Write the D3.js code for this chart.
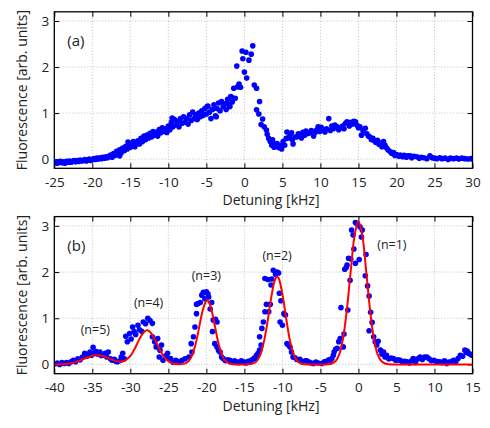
<!DOCTYPE html>
<html>
<head>
<meta charset="utf-8">
<script src="https://cdn.jsdelivr.net/npm/d3@7"></script>
<style>
  body { margin: 0; background: #fff; }
  svg { display: block; font-family: "Open Sans", sans-serif; }
</style>
</head>
<body>
<script>
// panel (a): broad scan, [detuning kHz, fluorescence]
const scanA = [
  [-25.0,-0.08],[-24.8,-0.06],[-24.6,-0.09],[-24.4,-0.07],[-24.2,-0.05],[-24.0,-0.08],[-23.8,-0.06],[-23.6,-0.09],
  [-23.4,-0.05],[-23.2,-0.07],[-23.0,-0.04],[-22.8,-0.07],[-22.6,-0.05],[-22.4,-0.03],[-22.2,-0.06],[-22.0,-0.03],
  [-21.8,-0.05],[-21.6,-0.02],[-21.4,-0.04],[-21.2,-0.03],[-21.0,-0.01],[-20.8,-0.04],[-20.6,-0.02],[-20.4,0.0],
  [-20.2,-0.03],[-20.0,-0.01],[-19.8,0.01],[-19.6,-0.01],[-19.4,0.02],[-19.2,0.0],[-19.0,0.03],[-18.8,0.01],
  [-18.6,0.04],[-18.4,0.02],[-18.2,0.05],[-18.0,0.03],[-17.8,0.06],[-17.6,0.09],[-17.4,0.04],[-17.2,0.12],
  [-17.0,0.08],[-16.8,0.17],[-16.6,0.12],[-16.4,0.07],[-16.4,0.20],[-16.2,0.14],[-16.0,0.24],[-15.8,0.18],
  [-15.6,0.28],[-15.4,0.22],[-15.3,0.37],[-15.1,0.32],[-15.0,0.26],[-14.8,0.30],[-14.6,0.38],[-14.4,0.27],
  [-14.2,0.35],[-14.0,0.40],[-13.8,0.33],[-13.6,0.45],[-13.4,0.38],[-13.2,0.50],[-13.0,0.42],[-12.8,0.52],
  [-12.6,0.46],[-12.4,0.56],[-12.2,0.48],[-12.0,0.60],[-11.8,0.52],[-11.6,0.58],[-11.4,0.50],[-11.2,0.64],
  [-11.0,0.57],[-10.8,0.68],[-10.6,0.60],[-10.4,0.66],[-10.2,0.58],[-10.0,0.72],[-9.8,0.64],[-9.6,0.80],
  [-9.5,0.89],[-9.4,0.70],[-9.2,0.86],[-9.0,0.74],[-8.8,0.82],[-8.6,0.70],[-8.4,0.88],[-8.2,0.78],
  [-8.0,0.92],[-7.8,0.80],[-7.6,0.88],[-7.4,0.76],[-7.2,0.96],[-7.0,0.84],[-6.8,1.02],[-6.6,0.88],
  [-6.4,0.96],[-6.2,0.86],[-6.0,1.00],[-5.8,0.92],[-5.6,1.05],[-5.4,0.95],[-5.2,1.10],[-5.0,0.98],
  [-4.9,1.14],[-4.8,1.15],[-4.6,1.02],[-4.4,0.88],[-4.2,1.08],[-4.0,1.18],[-3.8,0.94],[-3.7,0.92],
  [-3.6,1.10],[-3.4,1.22],[-3.2,1.05],[-3.0,1.25],[-2.8,1.14],[-2.6,1.20],[-2.4,1.08],[-2.3,1.21],
  [-2.2,1.30],[-2.0,1.18],[-1.9,1.14],[-1.8,1.36],[-1.7,1.35],[-1.6,1.24],[-1.4,1.54],[-1.2,1.32],
  [-1.0,2.02],[-0.9,1.57],[-0.7,1.63],[-0.5,1.56],[-0.3,2.35],[-0.2,2.18],[0.0,1.89],[0.2,2.32],
  [0.3,1.76],[0.6,2.15],[0.9,2.28],[1.1,2.46],[1.3,1.61],[1.6,1.54],[1.6,1.07],[1.9,0.98],
  [2.0,1.25],[2.2,0.75],[2.4,0.87],[2.6,0.70],[2.9,0.63],[3.0,0.54],[3.2,0.45],[3.4,0.38],
  [3.6,0.30],[3.7,0.42],[3.9,0.26],[4.1,0.33],[4.3,0.34],[4.5,0.25],[4.7,0.30],[4.8,0.27],
  [4.9,0.22],[5.1,0.38],[5.3,0.30],[5.5,0.45],[5.6,0.59],[5.8,0.46],[6.0,0.50],[6.2,0.57],
  [6.3,0.42],[6.4,0.33],[6.7,0.48],[6.9,0.48],[7.1,0.55],[7.3,0.54],[7.5,0.46],[7.7,0.58],
  [7.9,0.52],[8.1,0.61],[8.3,0.55],[8.6,0.57],[8.8,0.62],[9.1,0.50],[9.3,0.58],[9.5,0.63],
  [9.7,0.70],[9.9,0.60],[10.1,0.69],[10.3,0.64],[10.6,0.59],[10.8,0.66],[11.1,0.88],[11.3,0.62],
  [11.5,0.72],[11.7,0.66],[11.9,0.74],[12.2,0.70],[12.4,0.64],[12.6,0.68],[12.9,0.72],[13.1,0.66],
  [13.3,0.78],[13.5,0.81],[13.8,0.72],[14.0,0.80],[14.2,0.76],[14.4,0.82],[14.6,0.81],[14.8,0.74],
  [15.0,0.68],[15.2,0.70],[15.4,0.52],[15.6,0.62],[15.9,0.67],[16.1,0.55],[16.3,0.50],[16.5,0.48],
  [16.7,0.42],[16.9,0.45],[17.1,0.40],[17.3,0.36],[17.5,0.41],[17.7,0.32],[17.9,0.35],[18.1,0.27],
  [18.3,0.38],[18.5,0.30],[18.7,0.24],[18.9,0.20],[19.2,0.16],[19.4,0.12],[19.6,0.14],[19.8,0.08],
  [20.0,0.10],[20.3,0.06],[20.5,0.09],[20.8,0.05],[21.0,0.08],[21.3,0.04],[21.5,0.07],[21.8,0.07],
  [22.0,0.03],[22.3,0.06],[22.7,0.05],[23.0,0.02],[23.3,0.04],[23.6,0.03],[24.0,0.01],[24.4,0.07],
  [24.7,0.03],[25.0,0.02],[25.3,0.01],[25.7,0.03],[26.0,0.01],[26.4,0.02],[26.8,-0.01],[27.1,0.02],
  [27.5,0.01],[27.9,0.02],[28.2,0.0],[28.6,0.02],[29.0,0.01],[29.4,0.0],[29.8,0.01],[30.0,0.0]
];

// panel (b): sideband scan
const scanB = [
  [-39.9,0.01],[-39.6,0.03],[-39.3,0.0],[-39.0,0.04],[-38.7,0.02],[-38.4,0.04],[-38.1,0.02],[-37.8,0.06],
  [-37.5,0.09],[-37.2,0.06],[-36.9,0.12],[-36.6,0.10],[-36.3,0.16],[-36.0,0.24],[-35.7,0.18],[-35.5,0.22],
  [-35.3,0.27],[-35.1,0.20],[-34.9,0.37],[-34.7,0.25],[-34.5,0.28],[-34.3,0.22],[-34.0,0.27],[-33.8,0.19],
  [-33.5,0.20],[-33.3,0.24],[-33.1,0.16],[-32.9,0.27],[-32.6,0.12],[-32.4,0.09],[-32.1,0.11],[-31.9,0.07],
  [-31.7,0.06],[-31.4,0.08],[-31.2,0.16],[-31.0,0.24],[-30.8,0.12],[-30.6,0.61],[-30.4,0.49],[-30.1,0.67],
  [-29.9,0.55],[-29.7,0.81],[-29.5,0.71],[-29.3,0.65],[-29.0,0.85],[-28.8,0.75],[-28.5,0.72],[-28.3,0.92],
  [-28.0,0.88],[-27.7,1.00],[-27.4,0.95],[-27.1,0.89],[-27.1,0.60],[-26.8,0.49],[-26.6,0.38],[-26.4,0.56],
  [-26.2,0.16],[-26.1,0.31],[-25.9,0.42],[-25.7,0.09],[-25.4,0.18],[-25.1,0.24],[-24.9,0.13],[-24.7,0.13],
  [-24.4,0.05],[-24.0,0.09],[-23.6,0.06],[-23.2,0.09],[-22.8,0.12],[-22.3,0.16],[-22.0,0.45],[-21.9,0.27],
  [-21.7,0.60],[-21.5,0.81],[-21.3,1.10],[-21.3,1.30],[-21.1,1.32],[-20.8,1.34],[-20.6,1.50],[-20.4,1.56],
  [-20.2,1.42],[-20.0,1.57],[-19.8,1.53],[-19.7,1.46],[-19.5,1.20],[-19.3,1.34],[-19.2,0.71],[-19.1,0.96],
  [-18.9,0.45],[-18.8,0.98],[-18.6,0.92],[-18.6,0.38],[-18.4,0.30],[-18.2,0.27],[-18.0,0.16],[-17.8,0.13],
  [-17.5,0.08],[-17.2,0.10],[-16.9,0.09],[-16.6,0.05],[-16.3,0.08],[-16.0,0.06],[-15.7,0.04],[-15.4,0.08],
  [-15.1,0.06],[-14.8,0.03],[-14.5,0.07],[-14.3,0.07],[-14.0,0.10],[-13.7,0.14],[-13.6,0.13],[-13.4,0.20],
  [-13.2,0.24],[-13.0,0.31],[-13.0,0.60],[-12.8,0.42],[-12.7,0.78],[-12.5,0.92],[-12.3,1.14],[-12.1,1.30],
  [-11.8,1.14],[-11.6,1.30],[-11.5,1.72],[-12.3,1.86],[-11.9,1.84],[-11.4,1.85],[-11.2,2.04],[-10.9,1.95],
  [-10.7,2.00],[-10.5,1.98],[-10.4,1.54],[-10.2,1.38],[-10.0,0.85],[-10.3,0.92],[-9.8,1.10],[-9.6,1.07],
  [-9.4,0.45],[-9.2,0.42],[-9.0,0.38],[-8.8,0.27],[-8.6,0.16],[-8.4,0.15],[-8.1,0.11],[-7.7,0.11],
  [-7.4,0.06],[-7.0,0.08],[-6.8,0.08],[-6.5,0.05],[-6.2,0.03],[-5.9,0.02],[-5.6,0.05],[-5.3,0.03],
  [-4.8,0.02],[-4.5,0.06],[-4.2,0.07],[-3.9,0.10],[-3.7,0.09],[-3.5,0.13],[-3.3,0.20],[-3.2,0.27],
  [-3.0,0.33],[-2.8,0.35],[-2.6,0.49],[-2.4,0.56],[-2.3,1.23],[-2.0,0.38],[-1.9,0.66],[-1.8,2.06],
  [-1.6,2.10],[-1.5,2.15],[-1.4,1.18],[-1.3,2.30],[-1.1,1.82],[-1.0,2.28],[-0.9,2.91],[-0.7,2.80],
  [-0.6,2.50],[-0.4,3.07],[-0.4,2.19],[-0.2,3.05],[0.1,2.27],[0.2,2.98],[0.4,2.76],[0.5,2.91],
  [0.9,1.92],[1.0,2.38],[1.2,1.70],[1.4,1.48],[1.4,0.73],[1.6,1.13],[1.8,0.91],[2.0,0.60],
  [2.2,0.49],[2.4,0.42],[2.6,0.50],[2.9,0.31],[3.1,0.22],[3.3,0.27],[3.5,0.16],[3.7,0.20],
  [4.0,0.12],[4.3,0.14],[4.6,0.13],[4.9,0.09],[5.2,0.10],[5.5,0.09],[5.8,0.05],[6.1,0.07],
  [6.4,0.06],[6.7,0.03],[7.0,0.08],[7.2,0.13],[7.5,0.04],[7.8,0.12],[8.1,0.16],[8.4,0.11],
  [8.7,0.16],[9.0,0.16],[9.3,0.12],[9.6,0.08],[9.9,0.09],[10.2,0.07],[10.5,0.05],[10.7,0.06],
  [11.0,0.04],[11.3,0.08],[11.6,0.02],[11.9,0.05],[12.2,0.06],[12.5,0.09],[12.8,0.06],[13.1,0.13],
  [13.4,0.20],[13.7,0.18],[14.0,0.31],[14.2,0.26],[14.3,0.29],[14.5,0.24],[14.7,0.22],[14.9,0.20]
];

// panel (b): fitted curve
const fitB = [
  [-40,0.0],[-39,0.005],[-38,0.021],[-37,0.062],[-36,0.128],[-35,0.188],[-34.4,0.200],[-34,0.197],
  [-33,0.142],[-32,0.078],[-31.4,0.060],[-31,0.063],[-30,0.184],[-29.5,0.318],[-29,0.483],[-28.5,0.64],
  [-28,0.73],[-27.8,0.74],[-27.5,0.72],[-27,0.61],[-26.5,0.45],[-26,0.28],[-25.5,0.155],[-25,0.073],
  [-24.5,0.03],[-24,0.011],[-23.5,0.005],[-23,0.012],[-22.5,0.047],[-22,0.153],[-21.5,0.386],[-21,0.76],
  [-20.5,1.16],[-20,1.38],[-19.9,1.39],[-19.5,1.28],[-19,0.93],[-18.5,0.52],[-18,0.23],[-17.5,0.078],
  [-17,0.021],[-16.5,0.004],[-16,0.001],[-15,0.0],[-14.5,0.003],[-14,0.014],[-13.5,0.054],[-13,0.17],
  [-12.5,0.44],[-12,0.88],[-11.5,1.42],[-11,1.82],[-10.7,1.90],[-10.5,1.87],[-10,1.52],[-9.5,0.99],
  [-9,0.51],[-8.5,0.21],[-8,0.07],[-7.5,0.018],[-7,0.004],[-6,0.0],[-5,0.0],[-4,0.004],
  [-3.5,0.02],[-3,0.075],[-2.5,0.23],[-2,0.59],[-1.5,1.22],[-1,2.05],[-0.5,2.80],[0,3.10],
  [0.5,2.80],[1,2.05],[1.5,1.22],[2,0.59],[2.5,0.23],[3,0.075],[3.5,0.02],[4,0.004],
  [5,0.0],[10,0.0],[15,0.0]
];

const sidebandLabels = ["(n=1)", "(n=2)", "(n=3)", "(n=4)", "(n=5)"];
const sidebandLabelAt = [[4.4, 2.6], [-10.7, 2.35], [-20.0, 1.93], [-27.6, 1.34], [-34.6, 0.75]];

const xTicksA = [-25, -20, -15, -10, -5, 0, 5, 10, 15, 20, 25, 30];
const xTicksB = [-40, -35, -30, -25, -20, -15, -10, -5, 0, 5, 10, 15];
const yTicks = [0, 1, 2, 3];

const W = 490, H = 428;
const left = 54.3, right = 472.5;
const ink = "#222";

const svg = d3.select("body").append("svg")
    .attr("width", W)
    .attr("height", H);

function drawPanel(opts){
    const x = d3.scaleLinear().domain(opts.xDomain).range([left, right]);
    const y = d3.scaleLinear().domain([-0.2, 3.2]).range([opts.bottom, opts.top]);
    const g = svg.append("g");

    g.append("clipPath").attr("id", opts.id + "clip")
        .append("rect")
        .attr("x", left).attr("y", opts.top)
        .attr("width", right - left).attr("height", opts.bottom - opts.top);

    // dotted grid
    g.append("g").selectAll("line").data(opts.xTicks.slice(1, -1)).join("line")
        .attr("x1", d => x(d)).attr("x2", d => x(d))
        .attr("y1", opts.top).attr("y2", opts.bottom)
        .attr("stroke", "#b0b0b0").attr("stroke-width", 0.8).attr("stroke-dasharray", "1,2");
    g.append("g").selectAll("line").data(yTicks).join("line")
        .attr("x1", left).attr("x2", right)
        .attr("y1", d => y(d)).attr("y2", d => y(d))
        .attr("stroke", "#b0b0b0").attr("stroke-width", 0.8).attr("stroke-dasharray", "1,2");

    // ticks point inward on all four sides
    const tk = 5;
    const fmt = d => String(d);
    g.append("g").attr("transform", `translate(0,${opts.bottom})`)
        .call(d3.axisBottom(x).tickValues(opts.xTicks).tickSize(-tk).tickPadding(9).tickFormat(fmt));
    g.append("g").attr("transform", `translate(0,${opts.top})`)
        .call(d3.axisTop(x).tickValues(opts.xTicks).tickSize(-tk).tickFormat(""));
    g.append("g").attr("transform", `translate(${left},0)`)
        .call(d3.axisLeft(y).tickValues(yTicks).tickSize(-tk).tickPadding(5).tickFormat(fmt));
    g.append("g").attr("transform", `translate(${right},0)`)
        .call(d3.axisRight(y).tickValues(yTicks).tickSize(-tk).tickFormat(""));
    g.selectAll(".domain").remove();
    g.selectAll(".tick line").attr("stroke", "#000").attr("stroke-width", 1);
    g.selectAll(".tick text").attr("font-size", 13.5).attr("fill", ink)
        .attr("font-family", "Open Sans");

    // points, then fit on top
    const pts = g.append("g").attr("clip-path", `url(#${opts.id}clip)`);
    pts.selectAll("circle").data(opts.points).join("circle")
        .attr("cx", d => x(d[0]))
        .attr("cy", d => y(d[1]))
        .attr("r", 2.8)
        .attr("fill", "#0000ff");

    if(opts.fit){
        pts.append("path")
            .datum(opts.fit)
            .attr("d", d3.line().x(d => x(d[0])).y(d => y(d[1])).curve(d3.curveCatmullRom))
            .attr("fill", "none")
            .attr("stroke", "#ff0000")
            .attr("stroke-width", 2);
    }

    g.append("rect")
        .attr("x", left).attr("y", opts.top)
        .attr("width", right - left).attr("height", opts.bottom - opts.top)
        .attr("fill", "none").attr("stroke", "#000").attr("stroke-width", 1.3);

    g.append("text")
        .attr("x", left + 13).attr("y", opts.top + 34)
        .attr("font-size", 15).attr("fill", ink)
        .text(opts.tag);

    g.append("text")
        .attr("x", 271).attr("y", opts.bottom + 37)
        .attr("text-anchor", "middle").attr("font-size", 14).attr("fill", ink)
        .text("Detuning [kHz]");

    g.append("text")
        .attr("transform", `translate(22,${(opts.top + opts.bottom) / 2}) rotate(-90)`)
        .attr("text-anchor", "middle").attr("dy", "0.35em")
        .attr("font-size", 14).attr("fill", ink)
        .text("Fluorescence [arb. units]");

    return {x, y, g};
}

drawPanel({
    id: "a", xDomain: [-25, 30], xTicks: xTicksA,
    top: 11.8, bottom: 168.3, points: scanA, tag: "(a)"
});

const pb = drawPanel({
    id: "b", xDomain: [-40, 15], xTicks: xTicksB,
    top: 216.6, bottom: 373.7, points: scanB, fit: fitB, tag: "(b)"
});

pb.g.append("g").selectAll("text").data(sidebandLabels).join("text")
    .attr("x", (d, i) => pb.x(sidebandLabelAt[i][0]))
    .attr("y", (d, i) => pb.y(sidebandLabelAt[i][1]))
    .attr("dy", "0.35em")
    .attr("text-anchor", "middle")
    .attr("font-size", 12.5)
    .attr("fill", ink)
    .text(d => d);
</script>
</body>
</html>
